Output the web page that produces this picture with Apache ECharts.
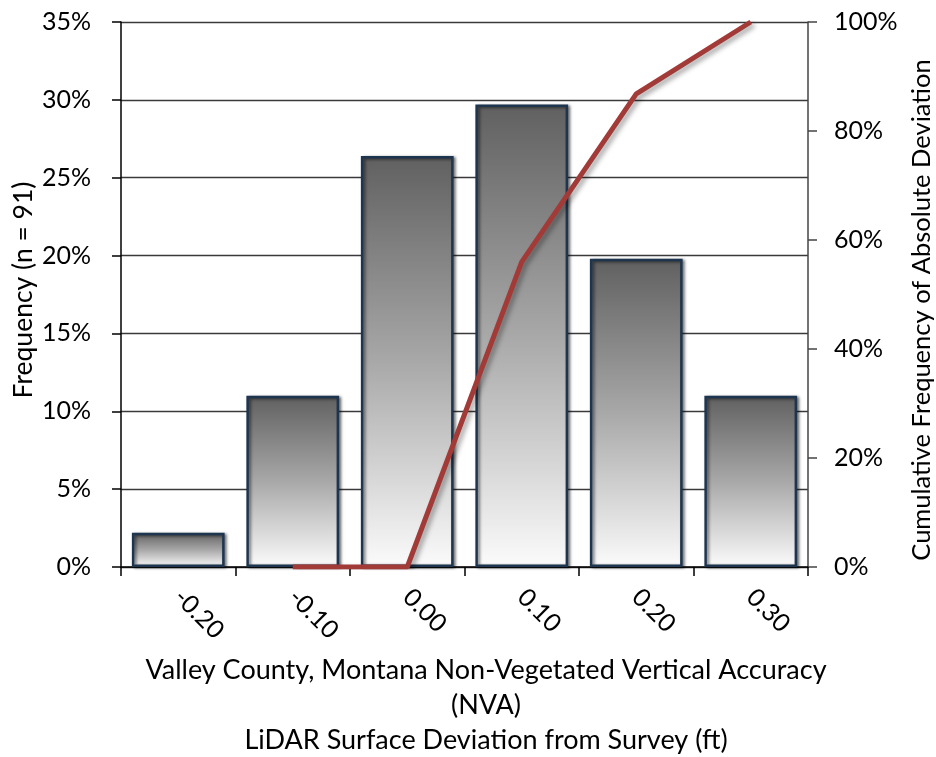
<!DOCTYPE html>
<html><head><meta charset="utf-8">
<script src="https://cdn.jsdelivr.net/npm/echarts@6/dist/echarts.min.js"></script>
<style>html,body{margin:0;padding:0;background:#fff}#c{width:936px;height:757px}</style>
</head><body><div id="c"></div>
<script>
const categories = ['-0.20', '-0.10', '0.00', '0.10', '0.20', '0.30'];
const frequency = [2.2, 11.0, 26.4, 29.7, 19.8, 11.0];
const cumulative = [null, 0, 0, 56.0, 86.8, 100];
const xTitleLines = ['Valley County, Montana Non-Vegetated Vertical Accuracy', '(NVA)', 'LiDAR Surface Deviation from Survey (ft)'];
const leftTitle = 'Frequency (n = 91)';
const rightTitle = 'Cumulative Frequency of Absolute Deviation';

const FONT = 'Lato';
const chart = echarts.init(document.getElementById('c'), null, {renderer: 'canvas'});
chart.setOption({
  animation: false,
  backgroundColor: '#fff',
  textStyle: {fontFamily: FONT},
  grid: {left: 121, right: 128, top: 22, bottom: 190, containLabel: false},
  xAxis: {
    type: 'category', data: categories,
    axisLine: {lineStyle: {color: '#000', width: 1.5}},
    axisTick: {show: true, alignWithLabel: false, length: 9, lineStyle: {color: '#000', width: 1.5}},
    axisLabel: {rotate: -45, margin: 26, fontSize: 25, color: '#000', fontFamily: FONT}
  },
  yAxis: [{
    type: 'value', min: 0, max: 35, interval: 5,
    axisLabel: {formatter: '{value}%', fontSize: 25, color: '#000', margin: 30, fontFamily: FONT},
    axisLine: {show: true, lineStyle: {color: '#000', width: 1.5}},
    axisTick: {show: true, length: 9, lineStyle: {color: '#000', width: 1.5}},
    splitLine: {show: true, lineStyle: {color: '#3a3a3a', width: 1.3}}
  }, {
    type: 'value', min: 0, max: 100, interval: 20, position: 'right',
    axisLabel: {formatter: '{value}%', fontSize: 25, color: '#000', margin: 26, fontFamily: FONT},
    axisLine: {show: true, lineStyle: {color: '#444', width: 1.5}},
    axisTick: {show: true, length: 9, lineStyle: {color: '#444', width: 1.5}},
    splitLine: {show: false}
  }],
  graphic: [
    {type: 'text', x: 486, y: 705, style: {text: xTitleLines.join('\n'), fontSize: 27, lineHeight: 35, fill: '#000', align: 'center', verticalAlign: 'middle', fontFamily: FONT}},
    {type: 'text', x: 23, y: 290, rotation: Math.PI / 2, style: {text: leftTitle, fontSize: 26.5, fill: '#000', align: 'center', verticalAlign: 'middle', fontFamily: FONT}},
    {type: 'text', x: 922, y: 310, rotation: Math.PI / 2, style: {text: rightTitle, fontSize: 25.5, fill: '#000', align: 'center', verticalAlign: 'middle', fontFamily: FONT}}
  ],
  series: [{
    type: 'bar', data: frequency, yAxisIndex: 0, barCategoryGap: '19%',
    itemStyle: {
      color: new echarts.graphic.LinearGradient(0, 0, 0, 1, [
        {offset: 0, color: '#606060'}, {offset: 0.5, color: '#a8a8a8'}, {offset: 1, color: '#fbfbfb'}
      ]),
      borderColor: '#1e3550', borderWidth: 2.5,
      shadowColor: 'rgba(0,0,0,0.55)', shadowBlur: 3, shadowOffsetX: 2, shadowOffsetY: 1
    }
  }, {
    type: 'line', data: cumulative, yAxisIndex: 1, symbol: 'none', connectNulls: false,
    lineStyle: {color: '#a23b37', width: 5, shadowColor: 'rgba(0,0,0,0.35)', shadowBlur: 5, shadowOffsetX: 3, shadowOffsetY: 3}
  }]
});
</script></body></html>
